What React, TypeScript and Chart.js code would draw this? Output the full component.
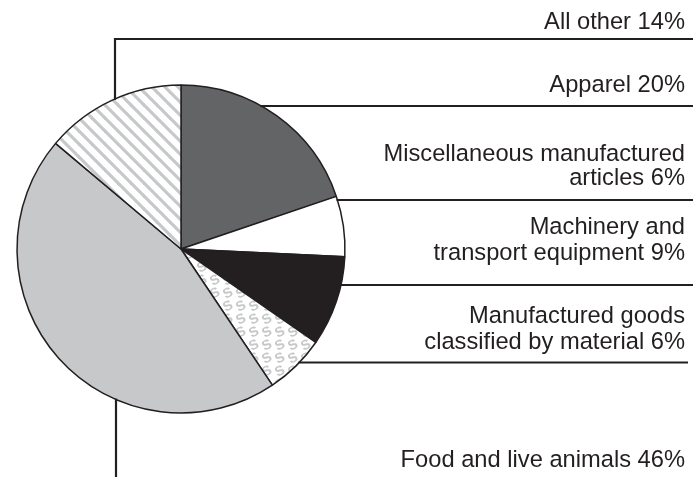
import React, { useEffect, useRef } from 'react';
import { Chart, registerables } from 'chart.js';

Chart.register(...registerables);

// ---- data ----
const categories = [
  'Apparel',
  'Miscellaneous manufactured articles',
  'Machinery and transport equipment',
  'Manufactured goods classified by material',
  'Food and live animals',
  'All other',
];
const shares = [20, 6, 9, 6, 46, 14];
const labelLines = [
  ['Apparel 20%'],
  ['Miscellaneous manufactured', 'articles 6%'],
  ['Machinery and', 'transport equipment 9%'],
  ['Manufactured goods', 'classified by material 6%'],
  ['Food and live animals 46%'],
  ['All other 14%'],
];

// ---- style / layout ----
const INK = '#231f20';
const LIGHT = '#c7c8ca';
const W = 693;
const H = 477;
const FONT = '23.7px "Liberation Sans", Arial, Helvetica, sans-serif';
const TEXT_RIGHT = 685;
// baselines of label lines, per category
const labelBaselines = [[92], [161, 185], [234, 260], [323, 349], [467], [29]];

function stripePattern(): CanvasPattern | string {
  const c = document.createElement('canvas');
  const s = 13;
  c.width = s;
  c.height = s;
  const g = c.getContext('2d');
  if (!g) return '#ffffff';
  g.fillStyle = '#ffffff';
  g.fillRect(0, 0, s, s);
  g.strokeStyle = LIGHT;
  g.lineWidth = 3.2;
  for (const k of [-s, 0, s]) {
    g.beginPath();
    g.moveTo(k - 1, -1);
    g.lineTo(k + s + 1, s + 1);
    g.stroke();
  }
  return g.createPattern(c, 'repeat') || '#ffffff';
}

function glyphPattern(): CanvasPattern | string {
  const c = document.createElement('canvas');
  const s = 13;
  c.width = s;
  c.height = s;
  const g = c.getContext('2d');
  if (!g) return '#ffffff';
  g.fillStyle = '#ffffff';
  g.fillRect(0, 0, s, s);
  g.fillStyle = LIGHT;
  g.font = 'bold 14px "Liberation Sans", Arial, sans-serif';
  g.textAlign = 'center';
  g.textBaseline = 'middle';
  g.save();
  g.translate(s / 2, s / 2);
  g.rotate(-0.45);
  g.fillText('S', 0, 1);
  g.restore();
  return g.createPattern(c, 'repeat') || '#ffffff';
}

const leaderPlugin = {
  id: 'leaders',
  afterDraw(chart: any) {
    const ctx: CanvasRenderingContext2D = chart.ctx;
    const meta = chart.getDatasetMeta(0);
    const arc = meta.data[0];
    if (!arc) return;
    const { x: cx, y: cy, outerRadius: r } = arc.getProps(['x', 'y', 'outerRadius'], true);
    const edgeX = (y: number) => cx + Math.sqrt(Math.max(0, r * r - (y - cy) * (y - cy)));
    const edgeYTop = (x: number) => cy - Math.sqrt(Math.max(0, r * r - (x - cx) * (x - cx)));
    const edgeYBottom = (x: number) => cy + Math.sqrt(Math.max(0, r * r - (x - cx) * (x - cx)));

    ctx.save();
    ctx.strokeStyle = INK;
    ctx.lineWidth = 2.2;
    ctx.lineCap = 'butt';

    const hLine = (y: number, xEnd: number) => {
      ctx.beginPath();
      ctx.moveTo(edgeX(y) - 1, y);
      ctx.lineTo(xEnd, y);
      ctx.stroke();
    };
    // Apparel, Misc, Machinery, Manufactured goods
    hLine(106, W);
    hLine(200, W);
    hLine(285, W);
    hLine(362.5, 688);

    // All other: vertical up from the pie, then across
    const xa = cx - 66;
    ctx.beginPath();
    ctx.moveTo(xa, edgeYTop(xa) + 1);
    ctx.lineTo(xa, 39);
    ctx.lineTo(W, 39);
    ctx.stroke();

    // Food: vertical down from the pie
    const xf = cx - 65;
    ctx.beginPath();
    ctx.moveTo(xf, edgeYBottom(xf) - 1);
    ctx.lineTo(xf, H);
    ctx.stroke();

    // labels
    ctx.fillStyle = INK;
    ctx.font = FONT;
    ctx.textAlign = 'right';
    ctx.textBaseline = 'alphabetic';
    labelLines.forEach((lines, i) => {
      lines.forEach((t, j) => {
        ctx.fillText(t, TEXT_RIGHT, labelBaselines[i][j]);
      });
    });
    ctx.restore();
  },
};

export default function App() {
  const ref = useRef<HTMLCanvasElement | null>(null);
  useEffect(() => {
    document.body.style.margin = '0';
    const canvas = ref.current;
    if (!canvas) return;
    const colors = ['#636466', '#ffffff', INK, glyphPattern(), LIGHT, stripePattern()];
    const chart = new Chart(canvas, {
      type: 'pie',
      data: {
        labels: categories,
        datasets: [
          {
            data: shares,
            backgroundColor: colors as any,
            borderColor: INK,
            borderWidth: 1.5,
          },
        ],
      },
      options: {
        responsive: false,
        animation: false,
        radius: 164,
        layout: { padding: { left: 16, top: 84, right: W - 16 - 330, bottom: H - 84 - 330 } },
        plugins: {
          legend: { display: false },
          tooltip: { enabled: false },
        },
      } as any,
      plugins: [leaderPlugin],
    });
    return () => chart.destroy();
  }, []);
  return (
    <div style={{ width: W, height: H, overflow: 'hidden', background: '#ffffff' }}>
      <canvas ref={ref} width={W} height={H} style={{ display: 'block' }} />
    </div>
  );
}
